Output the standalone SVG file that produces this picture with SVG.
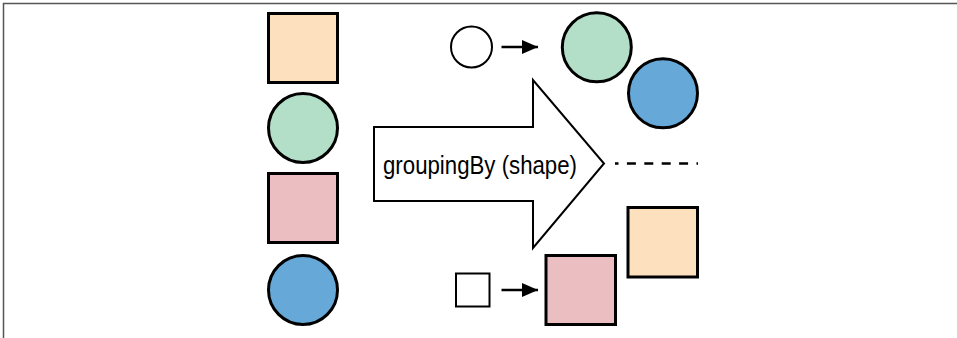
<svg xmlns="http://www.w3.org/2000/svg" width="957" height="338" viewBox="0 0 957 338">
<defs>
<style>
.s{stroke:#000;stroke-width:3}
.t{stroke:#000;stroke-width:2}
.orange{fill:#fde0bd}
.green{fill:#b3dec8}
.pink{fill:#ebbec1}
.blue{fill:#66a9d8}
.lbl{font-family:"Liberation Sans",Arial,sans-serif;font-size:26px;fill:#000}
</style>
<marker id="ah2" viewBox="0 0 16 14" refX="16" refY="7" markerWidth="16" markerHeight="14" orient="auto" markerUnits="userSpaceOnUse">
<path d="M0,0 L16,7 L0,14 z" fill="#000"/>
</marker>
</defs>
<rect x="0" y="0" width="957" height="338" fill="#fff"/>
<path d="M3.5,338 L3.5,3.5 L957,3.5" fill="none" stroke="#555" stroke-width="1.5"/>
<g id="input-square-orange"><rect class="s orange" x="268.5" y="13.5" width="69" height="69"/></g>
<g id="input-circle-green"><circle class="s green" cx="303" cy="128" r="34.5"/></g>
<g id="input-square-pink"><rect class="s pink" x="268.5" y="173.5" width="69" height="69"/></g>
<g id="input-circle-blue"><circle class="s blue" cx="303" cy="290" r="34.5"/></g>
<g id="groupingBy">
<polygon class="t" fill="#fff" points="374,127 533,127 533,80 604,163.5 533,248 533,201 374,201"/>
<text class="lbl" x="383" y="173.5" textLength="194" lengthAdjust="spacingAndGlyphs">groupingBy (shape)</text>
</g>
<g id="key-circle"><circle class="t" fill="#fff" cx="471.5" cy="47" r="20.5"/></g>
<g id="key-square"><rect class="t" fill="#fff" x="456" y="273.5" width="33.5" height="33"/></g>
<g id="out-circle-green"><circle class="s green" cx="596.8" cy="47.3" r="34.5"/></g>
<g id="out-circle-blue"><circle class="s blue" cx="663" cy="93.3" r="34.5"/></g>
<g id="out-square-pink"><rect class="s pink" x="546" y="255.5" width="69.5" height="69"/></g>
<g id="out-square-orange"><rect class="s orange" x="628" y="207.5" width="69.5" height="69.5"/></g>
<g id="connectors">
<line x1="501.5" y1="47" x2="538" y2="47" stroke="#000" stroke-width="2.5" marker-end="url(#ah2)"/>
<line x1="501.5" y1="290" x2="538" y2="290" stroke="#000" stroke-width="2.5" marker-end="url(#ah2)"/>
<line x1="615" y1="163.5" x2="698" y2="163.5" stroke="#000" stroke-width="2.5" stroke-dasharray="9 8.4" stroke-dashoffset="5.5"/>
</g>
</svg>
